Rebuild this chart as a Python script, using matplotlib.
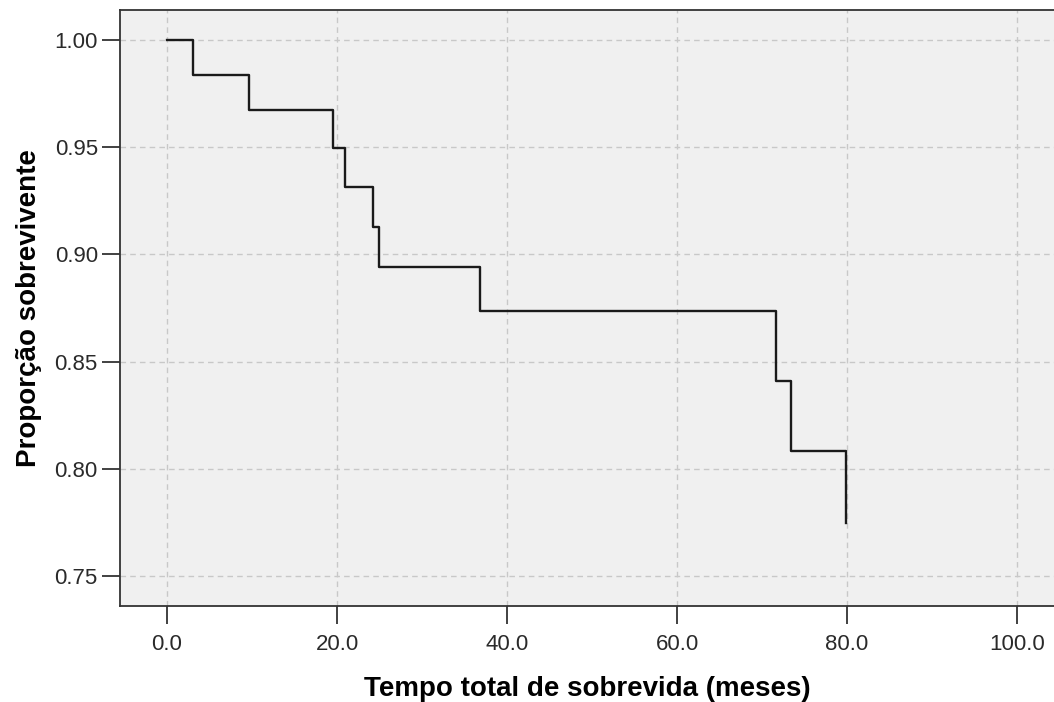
import matplotlib
matplotlib.use("Agg")
import matplotlib.pyplot as plt

# Kaplan-Meier step data
times = [0.0, 3.0, 9.7, 19.5, 20.9, 24.2, 24.9, 36.8, 71.6, 73.4, 79.9]
survival = [1.0, 0.9836, 0.9672, 0.9498, 0.9316, 0.9128, 0.8941, 0.8735, 0.8411, 0.8084, 0.7749]

x_ticks = [0, 20, 40, 60, 80, 100]
x_tick_labels = ["0.0", "20.0", "40.0", "60.0", "80.0", "100.0"]
y_ticks = [0.75, 0.80, 0.85, 0.90, 0.95, 1.00]
y_tick_labels = ["0.75", "0.80", "0.85", "0.90", "0.95", "1.00"]

plt.rcParams['font.family'] = ['Liberation Sans', 'DejaVu Sans']

fig = plt.figure(figsize=(10.54, 7.02), dpi=100)
W, H = 1054, 702
left, right, top, bottom = 120, 1054, 10, 606
ax = fig.add_axes([left / W, 1 - bottom / H, (right - left) / W, (bottom - top) / H])
ax.set_facecolor('#F0F0F0')

ax.plot(times, survival, drawstyle='steps-post', color='#1a1a1a', lw=1.7, zorder=3)

ax.set_xlim(-5.53, 104.35)
ax.set_ylim(0.736, 1.014)
ax.set_xticks(x_ticks)
ax.set_xticklabels(x_tick_labels)
ax.set_yticks(y_ticks)
ax.set_yticklabels(y_tick_labels)

ax.grid(True, color='#C8C8C8', linestyle=(0, (4, 3)), linewidth=1.0, zorder=1)
ax.set_axisbelow(True)

for s in ['left', 'top', 'bottom']:
    ax.spines[s].set_color('#333333')
    ax.spines[s].set_linewidth(1.3)
ax.spines['right'].set_visible(False)

ax.tick_params(axis='both', direction='out', length=13, width=1.3, color='#333333',
               labelsize=16, labelcolor='#2a2a2a')
ax.tick_params(axis='x', pad=7)
ax.tick_params(axis='y', pad=3)

ax.set_xlabel('Tempo total de sobrevida (meses)', fontsize=20, fontweight='bold', labelpad=15)
ax.set_ylabel('Proporção sobrevivente', fontsize=20, fontweight='bold', labelpad=9)

fig.savefig('out.png', dpi=100)
